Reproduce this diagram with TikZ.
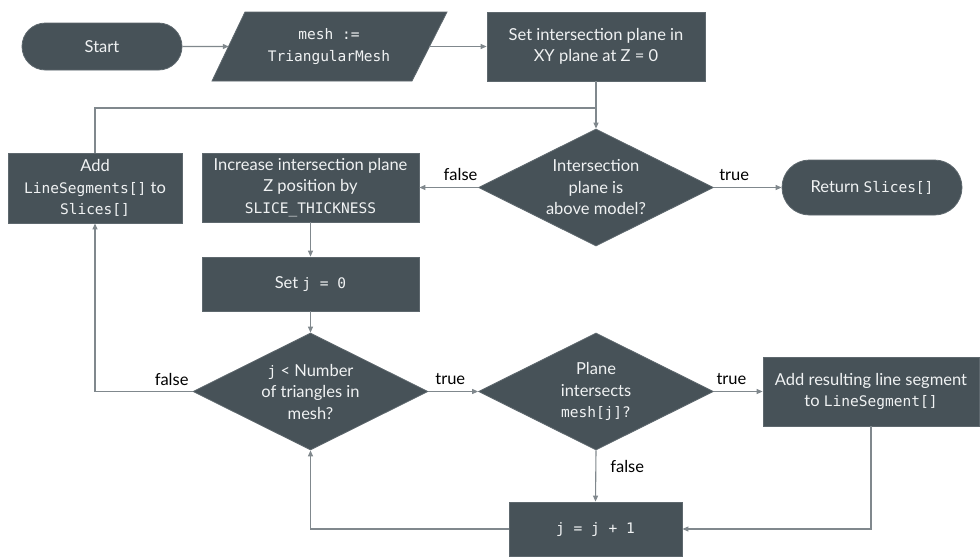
\documentclass[tikz,border=0pt]{standalone}
\usepackage{fontspec}
\setmainfont{Lato}
\setmonofont{DejaVu Sans Mono}[Scale=0.88]
\usetikzlibrary{shapes.geometric,shapes.misc,arrows.meta,calc}
\definecolor{boxfill}{HTML}{475258}
\definecolor{boxline}{HTML}{5E686E}
\definecolor{conn}{HTML}{80888D}
\definecolor{boxtext}{HTML}{F0F2F3}
\tikzset{
  base/.style={fill=boxfill, draw=boxline, line width=0.8pt, text=boxtext,
    font=\fontsize{16.5}{21.5}\selectfont, align=center, inner sep=0pt},
  proc/.style={base, rectangle},
  term/.style={base, rounded rectangle},
  dec/.style={base, diamond, minimum width=235pt, minimum height=117pt},
  dectext/.style={text=boxtext, font=\fontsize{16.5}{21.5}\selectfont, align=center, inner sep=0pt},
  conn/.style={draw=conn, line width=1.1pt},
  arr/.style={conn, -{Triangle[length=6pt,width=5pt]}},
  lbl/.style={text=black, font=\fontsize{16.5}{18}\selectfont, inner sep=0pt},
}
\begin{document}
\begin{tikzpicture}[x=1pt,y=-1pt]
\useasboundingbox (0,0) rectangle (980,557);
\fill[white] (0,0) rectangle (980,557);

% nodes
\node[term, minimum width=160pt, minimum height=47pt] (start) at (102,46.5) {Start};
\filldraw[fill=boxfill, draw=boxline, line width=0.8pt] (245,12) -- (447,12) -- (412,81) -- (212,81) -- cycle;
\node[rectangle, minimum width=200pt, minimum height=69pt, text=boxtext, align=center,
  font=\fontsize{16.5}{21.5}\selectfont, inner sep=0pt] (par) at (329,46.5) {\ttfamily mesh :=\\\ttfamily TriangularMesh};
\node[proc, minimum width=218pt, minimum height=69pt] (setp) at (596,46.5) {Set intersection plane in\\XY plane at Z = 0};
\node[dec, label={[dectext]center:{Intersection\\plane is\\above model?}}] (d1) at (596,187.5) {};
\node[term, minimum width=180pt, minimum height=55pt] (ret) at (872,187.5) {Return \texttt{Slices[]}};
\node[proc, minimum width=217pt, minimum height=69pt] (inc) at (310.5,187.5) {Increase intersection plane\\Z position by\\\texttt{SLICE\_THICKNESS}};
\node[proc, minimum width=174pt, minimum height=70pt] (addsl) at (95,188) {Add\\\texttt{LineSegments[]} to\\\texttt{Slices[]}};
\node[proc, minimum width=217pt, minimum height=54pt] (setj) at (310.5,284) {Set \texttt{j = 0}};
\node[dec, label={[dectext]center:{\texttt{j} < Number\\of triangles in\\mesh?}}] (d2) at (310.5,391.5) {};
\node[dec, label={[dectext]center:{Plane\\intersects\\\texttt{mesh[j]?}}}] (d3) at (596,391.5) {};
\node[proc, minimum width=216pt, minimum height=69pt] (addres) at (871,391.5) {Add resulting line segment\\to \texttt{LineSegment[]}};
\node[proc, minimum width=173pt, minimum height=54pt] (jinc) at (595.5,529) {\texttt{j = j + 1}};

\coordinate (m1) at (596,108);

% connectors
\draw[arr] (start) -- (par);
\draw[arr] (par) -- (setp);
\draw[conn] (setp) -- (m1);
\draw[arr] (m1) -- (d1);
\draw[conn] (addsl.north) |- (m1);
\draw[arr] (d1.east) -- node[lbl, pos=0.3, above=6pt] {true} (ret.west);
\draw[arr] (d1.west) -- node[lbl, pos=0.3, above=6pt] {false} (inc.east);
\draw[arr] (inc) -- (setj);
\draw[arr] (setj) -- (d2.north);
\draw[arr] (d2.east) -- node[lbl, pos=0.44, above=6pt] {true} (d3.west);
\draw[arr] (d2.west) -| (addsl.south);
\node[lbl, anchor=south] at ($(d2.west)+(-21,-6)$) {false};
\draw[arr] (d3.east) -- node[lbl, pos=0.36, above=6pt] {true} (addres.west);
\draw[arr] (d3.south) -- node[lbl, pos=0.32, right=14pt] {false} (jinc.north);
\draw[arr] (addres.south) |- (jinc.east);
\draw[arr] (jinc.west) -| (d2.south);
\end{tikzpicture}
\end{document}
